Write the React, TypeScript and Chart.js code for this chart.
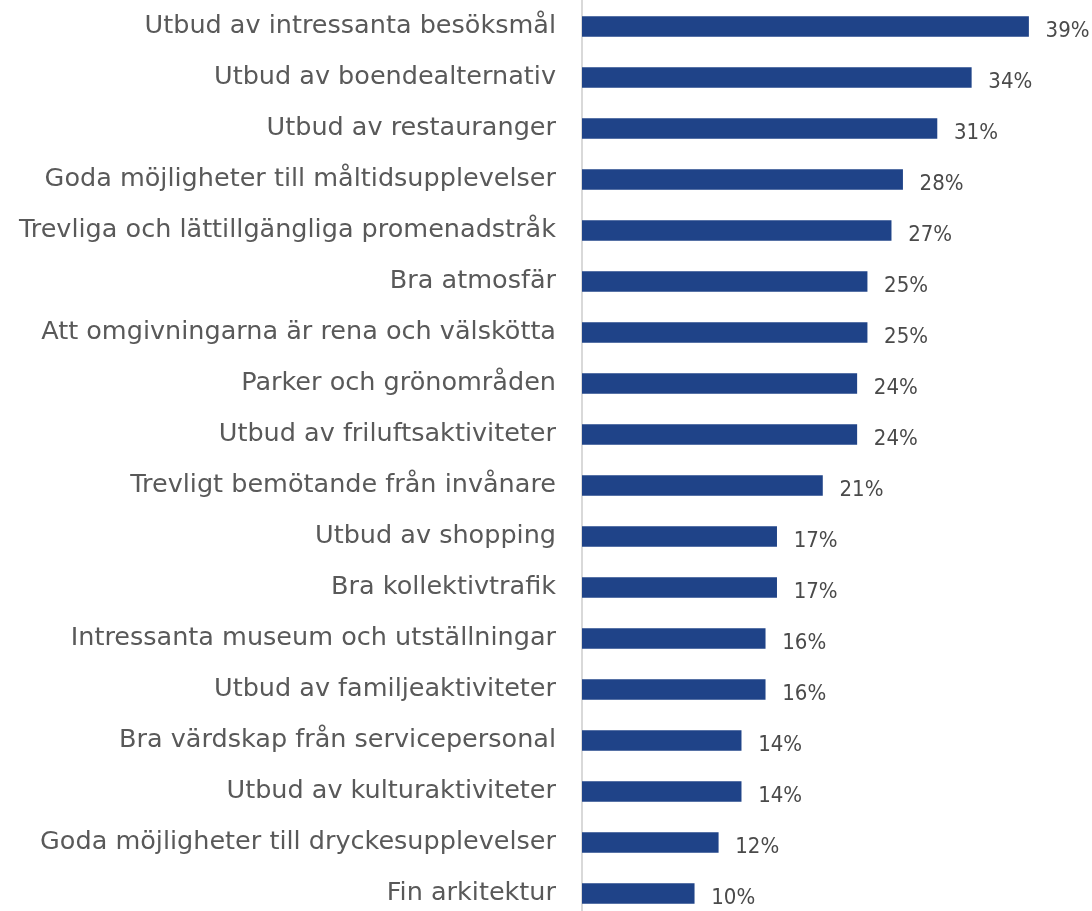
import React, { useEffect, useRef } from "react";
import { Chart, registerables } from "chart.js";

Chart.register(...registerables);

const categories: string[] = [
  "Utbud av intressanta besöksmål",
  "Utbud av boendealternativ",
  "Utbud av restauranger",
  "Goda möjligheter till måltidsupplevelser",
  "Trevliga och lättillgängliga promenadstråk",
  "Bra atmosfär",
  "Att omgivningarna är rena och välskötta",
  "Parker och grönområden",
  "Utbud av friluftsaktiviteter",
  "Trevligt bemötande från invånare",
  "Utbud av shopping",
  "Bra kollektivtrafik",
  "Intressanta museum och utställningar",
  "Utbud av familjeaktiviteter",
  "Bra värdskap från servicepersonal",
  "Utbud av kulturaktiviteter",
  "Goda möjligheter till dryckesupplevelser",
  "Fin arkitektur",
];

const values: number[] = [
  39.0, 34.0, 31.0, 28.0, 27.0, 24.9, 24.9, 24.0, 24.0, 21.0, 17.0, 17.0, 16.0,
  16.0, 13.9, 13.9, 11.9, 9.8,
];

const LABEL_FONT = "'DejaVu Sans', sans-serif";
const VALUE_FONT = "'DejaVu Sans Condensed', sans-serif";

const valueLabelPlugin = {
  id: "valueLabels",
  afterDatasetsDraw(chart: any) {
    const ctx = chart.ctx;
    const meta = chart.getDatasetMeta(0);
    ctx.save();
    ctx.font = `22px ${VALUE_FONT}`;
    ctx.fillStyle = "#4a4a4a";
    ctx.textAlign = "left";
    ctx.textBaseline = "alphabetic";
    meta.data.forEach((bar: any, i: number) => {
      ctx.fillText(`${Math.round(values[i])}%`, bar.x + 17, bar.y + 10);
    });
    ctx.restore();
  },
};

export default function App() {
  const ref = useRef<HTMLCanvasElement | null>(null);

  useEffect(() => {
    if (!ref.current) return;
    const chart = new Chart(ref.current, {
      type: "bar",
      data: {
        labels: categories,
        datasets: [
          {
            data: values,
            backgroundColor: "#1f4388",
            barThickness: 20,
          },
        ],
      },
      options: {
        indexAxis: "y",
        responsive: false,
        animation: false,
        layout: { padding: { top: 1, right: 52, bottom: 0, left: 0 } },
        plugins: {
          legend: { display: false },
          tooltip: { enabled: false },
        },
        scales: {
          x: {
            display: false,
            min: 0,
            max: 40,
          },
          y: {
            afterFit: (s: any) => {
              s.width = 582;
              s.paddingTop = 0;
              s.paddingBottom = 0;
            },
            grid: { display: false, drawTicks: false },
            border: { display: true, color: "#d9d9d9", width: 2 },
            ticks: {
              color: "#595959",
              padding: 26,
              font: { size: 25.5, family: LABEL_FONT },
              autoSkip: false,
            },
          },
        },
      },
      plugins: [valueLabelPlugin],
    });
    return () => chart.destroy();
  }, []);

  return (
    <div
      style={{
        position: "fixed",
        left: 0,
        top: 0,
        width: 1092,
        height: 911,
        overflow: "hidden",
        background: "#ffffff",
      }}
    >
      <canvas ref={ref} width={1092} height={919} style={{ display: "block" }} />
    </div>
  );
}
